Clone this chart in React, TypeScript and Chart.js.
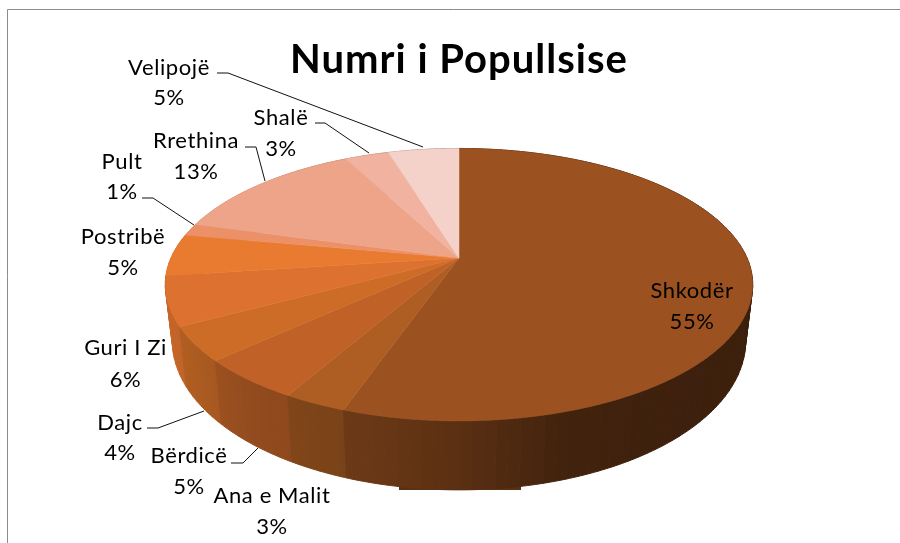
import React, { useEffect, useRef } from "react";
import { Chart, registerables } from "chart.js";

Chart.register(...registerables);

const titleText = "Numri i Popullsise";
const categories = ["Shkodër", "Ana e Malit", "Bërdicë", "Dajc", "Guri I Zi", "Postribë", "Pult", "Rrethina", "Shalë", "Velipojë"];
const shares = [55.3, 2.9, 4.9, 4, 5.8, 5, 1.45, 13, 2.95, 4.7];
const sliceColors = ["#9C5220", "#AE5E22", "#C06227", "#CC6C27", "#DD712F", "#E97B30", "#EC9068", "#EEA488", "#F1B3A0", "#F5D2C9"];
const labelCentersX = [692, 272, 189, 120, 125.5, 123, 122, 196, 281, 169];
const labelBaselinesY = [298, 503, 463, 430, 355, 244, 169, 147.5, 125, 75];
const labelLineGaps = [31, 31, 31, 30, 32, 31, 30, 31.5, 31, 30];
const leaderLines: (number[][] | null)[] = [
  null, null,
  [[231, 463], [243, 463], [258, 448]],
  [[147, 428], [158, 428], [204, 411]],
  null, null,
  [[142, 198], [153, 198], [194, 225]],
  [[245, 147], [256, 147], [265, 181]],
  [[315, 123], [325, 123], [369, 153]],
  [[217, 73], [228, 73], [423, 147]],
];
const shadeStops = [[-1, 0.92], [-0.8, 0.84], [-0.6, 0.76], [-0.4, 0.72], [-0.2, 0.66], [0, 0.58], [0.3, 0.42], [0.5, 0.4], [1, 0.38]];

const fontFamily = "Lato, Carlito, Calibri, sans-serif";

const topFace = { cx: 459, cy: 258, a: 288, b: 131, t: 0.196 };
const baseFace = { cx: 459, cy: 312, a: 281, b: 143, t: 0.196 };

function project(face: typeof topFace, theta: number) {
  const u = Math.sin(theta);
  const v = -Math.cos(theta);
  const d = 1 - face.t * v;
  return { x: face.cx + (face.a * u) / d, y: face.cy + (face.b * v) / d };
}

function shadeAt(u: number) {
  for (let i = 1; i < shadeStops.length; i++) {
    if (u <= shadeStops[i][0]) {
      const [u0, s0] = shadeStops[i - 1];
      const [u1, s1] = shadeStops[i];
      return s0 + ((s1 - s0) * (u - u0)) / (u1 - u0);
    }
  }
  return shadeStops[shadeStops.length - 1][1];
}

function darken(hex: string, f: number) {
  const n = parseInt(hex.slice(1), 16);
  const r = Math.round(((n >> 16) & 255) * f);
  const g = Math.round(((n >> 8) & 255) * f);
  const b = Math.round((n & 255) * f);
  return `rgb(${r},${g},${b})`;
}

const piePlugin = {
  id: "tiltedPie",
  beforeDraw(chart: any) {
    const { ctx } = chart;
    ctx.save();
    ctx.fillStyle = "#ffffff";
    ctx.fillRect(0, 0, 900, 543);
    ctx.strokeStyle = "#8c8c8c";
    ctx.lineWidth = 1;
    ctx.beginPath();
    ctx.moveTo(7.5, 543);
    ctx.lineTo(7.5, 9.5);
    ctx.lineTo(900, 9.5);
    ctx.stroke();
    ctx.restore();
    ctx.letterSpacing = "1px";
  },
  beforeDatasetDraw(chart: any) {
    const { ctx } = chart;
    const arcs = chart.getDatasetMeta(0).data;
    const bgColors = chart.data.datasets[0].backgroundColor;
    const bands: any[] = [];
    const bandWidth = (2 * Math.PI) / 180;
    arcs.forEach((arc: any, i: number) => {
      const start = arc.startAngle + Math.PI / 2;
      const end = arc.endAngle + Math.PI / 2;
      let a0 = start;
      while (a0 < end - 1e-6) {
        const a1 = Math.min(end, (Math.floor(a0 / bandWidth + 1e-6) + 1) * bandWidth);
        bands.push({ a0, a1, color: bgColors[i] });
        a0 = a1;
      }
    });
    bands.sort((p, q) => -Math.cos((p.a0 + p.a1) / 2) - -Math.cos((q.a0 + q.a1) / 2));
    ctx.save();
    ctx.fillStyle = darken(bgColors[0], shadeAt(0));
    ctx.fillRect(399, 485, 122, 5);
    for (const w of bands) {
      const fill = darken(w.color, shadeAt(Math.sin((w.a0 + w.a1) / 2)));
      ctx.fillStyle = fill;
      ctx.strokeStyle = fill;
      ctx.lineWidth = 1;
      ctx.beginPath();
      const n = 3;
      for (let k = 0; k <= n; k++) {
        const p = project(topFace, w.a0 + ((w.a1 - w.a0) * k) / n);
        k ? ctx.lineTo(p.x, p.y) : ctx.moveTo(p.x, p.y);
      }
      for (let k = n; k >= 0; k--) {
        const p = project(baseFace, w.a0 + ((w.a1 - w.a0) * k) / n);
        ctx.lineTo(p.x, p.y);
      }
      ctx.closePath();
      ctx.fill();
      ctx.stroke();
    }
    arcs.forEach((arc: any, i: number) => {
      const start = arc.startAngle + Math.PI / 2;
      const end = arc.endAngle + Math.PI / 2;
      const steps = Math.max(2, Math.ceil((end - start) / (Math.PI / 360)));
      ctx.fillStyle = bgColors[i];
      ctx.strokeStyle = bgColors[i];
      ctx.lineWidth = 0.5;
      ctx.beginPath();
      ctx.moveTo(topFace.cx, topFace.cy);
      for (let k = 0; k <= steps; k++) {
        const p = project(topFace, start + ((end - start) * k) / steps);
        ctx.lineTo(p.x, p.y);
      }
      ctx.closePath();
      ctx.fill();
      ctx.stroke();
    });
    ctx.restore();
    return false;
  },
  afterDatasetsDraw(chart: any) {
    const { ctx } = chart;
    const values: number[] = chart.data.datasets[0].data;
    const total = values.reduce((s, v) => s + v, 0);
    ctx.save();
    ctx.fillStyle = "#000000";
    ctx.textAlign = "center";
    ctx.textBaseline = "alphabetic";
    ctx.font = `22px ${fontFamily}`;
    ctx.letterSpacing = "0.6px";
    chart.data.labels.forEach((name: string, i: number) => {
      ctx.fillText(name, labelCentersX[i], labelBaselinesY[i]);
      ctx.fillText(`${Math.round((values[i] / total) * 100)}%`, labelCentersX[i], labelBaselinesY[i] + labelLineGaps[i]);
      const line = leaderLines[i];
      if (line) {
        ctx.strokeStyle = "#111111";
        ctx.lineWidth = 1;
        ctx.beginPath();
        line.forEach(([x, y], k) => (k ? ctx.lineTo(x, y) : ctx.moveTo(x, y)));
        ctx.stroke();
      }
    });
    ctx.restore();
    ctx.letterSpacing = "0px";
  },
};

export default function App() {
  const ref = useRef<HTMLCanvasElement>(null);
  useEffect(() => {
    document.body.style.margin = "0";
    const chart = new Chart(ref.current!, {
      type: "pie",
      data: {
        labels: categories,
        datasets: [{ data: shares, backgroundColor: sliceColors, borderWidth: 0 }],
      },
      options: {
        responsive: false,
        animation: false,
        layout: { padding: { left: 18, right: 0, top: 0, bottom: 0 } },
        plugins: {
          legend: { display: false },
          tooltip: { enabled: false },
          title: {
            display: true,
            text: titleText,
            color: "#000000",
            font: { family: fontFamily, size: 40, weight: "bold" },
            padding: { top: 36, bottom: 0 },
          },
        },
      },
      plugins: [piePlugin],
    } as any);
    return () => chart.destroy();
  }, []);
  return (
    <div style={{ width: 900, height: 543, overflow: "hidden" }}>
      <canvas ref={ref} width={900} height={543} style={{ display: "block" }} />
    </div>
  );
}
